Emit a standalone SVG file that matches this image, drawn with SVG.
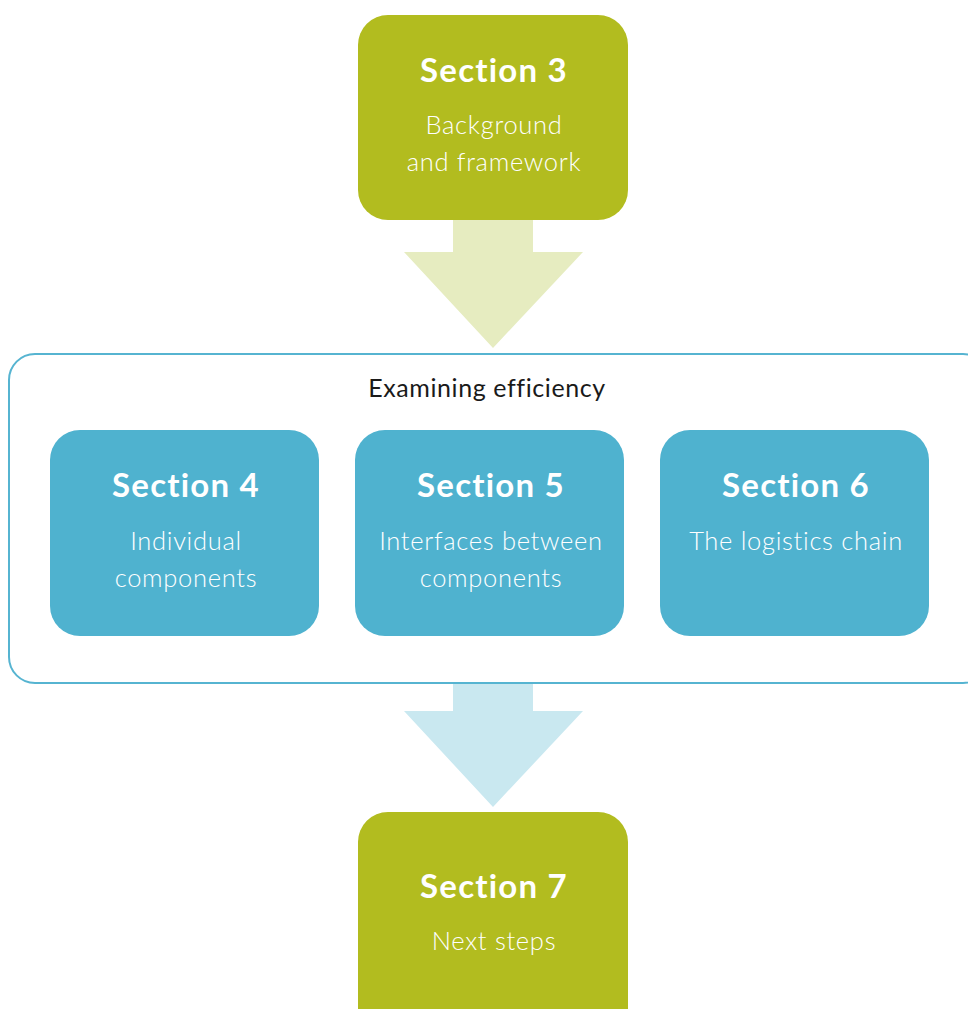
<svg xmlns="http://www.w3.org/2000/svg" width="968" height="1009" viewBox="0 0 968 1009">
<style>
.green{fill:#b2bc1f}
.blue{fill:#4fb2cf}
.title{font-family:Lato,"Noto Sans",sans-serif;font-weight:700;font-size:33px;letter-spacing:1.2px;fill:#ffffff;text-anchor:middle}
.sub{font-family:Lato,"Noto Sans",sans-serif;font-weight:300;font-size:25.5px;letter-spacing:0.7px;fill:#ffffff;text-anchor:middle}
.label{font-family:Lato,"Noto Sans",sans-serif;font-weight:400;font-size:25px;letter-spacing:0.6px;fill:#1a1a1a;text-anchor:middle}
</style>
<rect width="968" height="1009" fill="#ffffff"/>
<g id="connectors">
<polygon points="453,219 533,219 533,252 583,252 493,348 404,252 453,252" fill="#e6ecc0"/>
<polygon points="453,682 533,682 533,711 583,711 493,807 404,711 453,711" fill="#c9e8f0"/>
</g>
<g id="container">
<rect x="9" y="354" width="980" height="329" rx="26" fill="none" stroke="#56b4d1" stroke-width="2"/>
<text class="label" x="487" y="397">Examining efficiency</text>
</g>
<g id="section3">
<rect class="green" x="358" y="15" width="270" height="205" rx="30"/>
<text class="title" x="494" y="82">Section 3</text>
<text class="sub" x="494" y="134">Background</text>
<text class="sub" x="494" y="171">and framework</text>
</g>
<g id="section4">
<rect class="blue" x="50" y="430" width="269" height="206" rx="30"/>
<text class="title" x="186" y="497">Section 4</text>
<text class="sub" x="186" y="550">Individual</text>
<text class="sub" x="186" y="587">components</text>
</g>
<g id="section5">
<rect class="blue" x="355" y="430" width="269" height="206" rx="30"/>
<text class="title" x="491" y="497">Section 5</text>
<text class="sub" x="491" y="550">Interfaces between</text>
<text class="sub" x="491" y="587">components</text>
</g>
<g id="section6">
<rect class="blue" x="660" y="430" width="269" height="206" rx="30"/>
<text class="title" x="796" y="497">Section 6</text>
<text class="sub" x="796" y="550">The logistics chain</text>
</g>
<g id="section7">
<rect class="green" x="358" y="812" width="270" height="230" rx="30"/>
<text class="title" x="494" y="898">Section 7</text>
<text class="sub" x="494" y="950">Next steps</text>
</g>
</svg>
